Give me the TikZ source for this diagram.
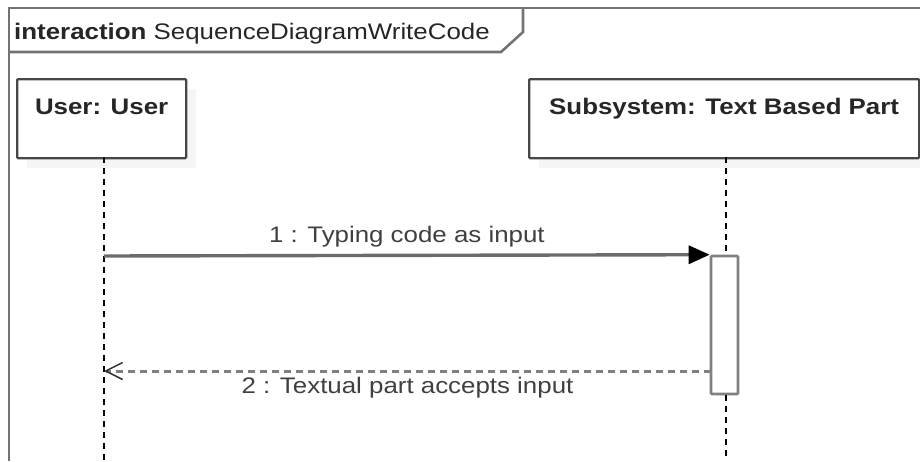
\documentclass[tikz,border=0pt]{standalone}
\usepackage{fontspec}
\setmainfont{Liberation Sans}[FakeStretch=1.15]
\usetikzlibrary{arrows.meta,shadows}

\tikzset{
  frameline/.style={draw=black!55, line width=2.6pt},
  lifebox/.style={draw=black!72, line width=2.3pt, fill=white, rounded corners=1pt,
    anchor=north west, minimum height=79pt, inner xsep=0pt, inner ysep=7.5pt,
    text height=28pt, text depth=36pt, text=black!85,
    font=\fontsize{22.5}{27}\selectfont\bfseries,
    drop shadow={fill=black!4, opacity=1, shadow xshift=10pt, shadow yshift=-10pt}},
  lifeline/.style={draw=black, line width=2pt, dash pattern=on 6pt off 5pt},
  actbox/.style={draw=black!50, line width=2.6pt, fill=white, rounded corners=1pt,
    minimum width=27pt, minimum height=138pt, inner sep=0pt},
  callmsg/.style={draw=black!58, line width=3.4pt,
    -{Triangle[length=21pt, width=18pt, color=black]}},
  replymsg/.style={draw=black!50, line width=3pt, dash pattern=on 7pt off 5pt,
    -{Straight Barb[length=17pt, width=17pt, line width=1.5pt, color=black!80]}},
  msglabel/.style={text=black!75, font=\fontsize{22.5}{27}\selectfont,
    anchor=base, inner sep=0pt},
}

\begin{document}
\begin{tikzpicture}[x=1pt, y=-1pt]
  \useasboundingbox (0,0) rectangle (920,461);

  % interaction frame and its name tag
  \draw[frameline] (920,8) -- (9,8) -- (9,461);
  \draw[frameline] (9,52) -- (501,52) -- (523,32) -- (523,8);
  \node[anchor=base west, inner sep=0pt, text=black!85,
        font=\fontsize{22.5}{27}\selectfont] (tag) at (14,39)
        {\textbf{interaction} SequenceDiagramWriteCode};

  % lifeline heads
  \node[lifebox, minimum width=169pt] (user) at (16,78) {User: User};
  \node[lifebox, minimum width=390pt] (sub) at (528,78) {Subsystem: Text Based Part};

  % execution occurrence on the subsystem
  \node[actbox] (act) at (724.5,325) {};

  % lifelines
  \coordinate (uTop) at (104,157);
  \coordinate (uEnd) at (104,461);
  \coordinate (sTop) at (725.5,157);
  \coordinate (sEnd) at (725.5,461);
  \draw[lifeline] (uTop) -- (uEnd);
  \draw[lifeline] (sTop) -- (act.north -| sTop);
  \draw[lifeline] (act.south -| sEnd) -- (sEnd);

  % messages
  \coordinate (m1) at (104,256);
  \coordinate (m2) at (104,371);
  \coordinate (a2) at (711,371);
  \draw[callmsg] (m1) -- (act.north west)
    node[msglabel, midway, yshift=13pt] {1 : Typing code as input};
  \draw[replymsg] (a2) -- (m2)
    node[msglabel, midway, yshift=-22pt] {2 : Textual part accepts input};
\end{tikzpicture}
\end{document}
